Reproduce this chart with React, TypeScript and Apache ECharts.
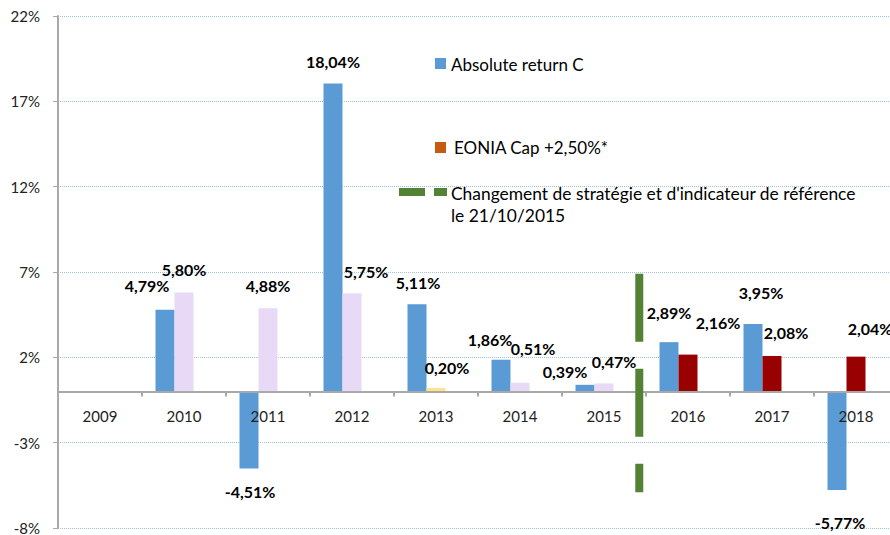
import React, { useEffect, useRef } from "react";
import * as echarts from "echarts";

const years = ["2009", "2010", "2011", "2012", "2013", "2014", "2015", "2016", "2017", "2018"];
const absoluteReturn: (number | null)[] = [null, 4.79, -4.51, 18.04, 5.11, 1.86, 0.39, 2.89, 3.95, -5.77];
const referenceIndex: (number | null)[] = [null, 5.8, 4.88, 5.75, 0.2, 0.51, 0.47, 2.16, 2.08, 2.04];
const placeholder: (number | null)[] = [null, null, null, null, null, null, null, null, null, null];

// strategy change marker, in category units / percent
const strategyChangeX = 6.92;
const strategyChangeTop = 6.9;
const strategyChangeBottom = -5.9;

const yMin = -8;
const yMax = 22;
const yStep = 5;

// styles
const GRID_H = 512;
const referenceColors = ["#E8DAF6", "#E8DAF6", "#E8DAF6", "#E8DAF6", "#FFE38C", "#E8DAF6", "#E8DAF6", "#990000", "#990000", "#990000"];
const absLabelOffsets: [number, number][] = [[0, 0], [-18, -65], [1, 62], [0, -176], [1, -65], [-11, -36], [-20, -17], [0, -54], [8, -65], [3, 82]];
const refLabelOffsets: [number, number][] = [[0, 0], [0, -72], [0, -64], [14, -71], [11, -22], [13, -39], [10, -26], [30, -51], [14, -41], [14, -46]];

const FONT = "Lato, 'Open Sans', sans-serif";
const fmt = (v: number) => v.toFixed(2).replace(".", ",") + "%";

const labelBase = {
  show: true,
  position: "inside",
  color: "#000",
  fontWeight: "bold",
  fontSize: 16,
  fontFamily: FONT,
  formatter: (p: any) => fmt(p.value),
};

export default function App() {
  const ref = useRef<HTMLDivElement>(null);
  useEffect(() => {
    if (!ref.current) return;
    const chart = echarts.init(ref.current, null, { renderer: "svg" });
    // place the category axis on the zero line of the value scale
    const zeroOffset = -GRID_H * (0 - yMin) / (yMax - yMin);
    const option: any = {
      animation: false,
      backgroundColor: "#fff",
      grid: { left: 58, top: 16, width: 840, height: GRID_H, containLabel: false, outerBoundsMode: "none" },
      xAxis: [
        {
          type: "category",
          data: years,
          offset: zeroOffset,
          z: 3,
          axisLine: { onZero: false, lineStyle: { color: "#A9A9A9", width: 2 } },
          axisTick: { show: true, length: 5, lineStyle: { color: "#A9A9A9", width: 2 } },
          axisLabel: { color: "#222", fontSize: 15, fontFamily: FONT, margin: 17 },
          splitLine: { show: false },
        },
        { type: "value", min: 0, max: 10, show: false },
      ],
      yAxis: {
        type: "value",
        min: yMin,
        max: yMax,
        interval: yStep,
        axisLine: { show: true, onZero: false, lineStyle: { color: "#A9A9A9", width: 2 } },
        axisTick: { show: true, length: 5, lineStyle: { color: "#A9A9A9", width: 1 } },
        axisLabel: { color: "#222", fontSize: 15, fontFamily: FONT, margin: 18, formatter: (v: number) => v + "%" },
        splitLine: { show: true, lineStyle: { color: "#9DC3E6", type: "dotted", width: 1 } },
      },
      series: [
        {
          name: "Absolute return C",
          type: "bar",
          barWidth: 19,
          barGap: "0%",
          itemStyle: { color: "#5B9BD5" },
          data: absoluteReturn.map((v, i) =>
            v == null ? "-" : { value: v, label: { ...labelBase, offset: absLabelOffsets[i] } }
          ),
        },
        {
          name: "EONIA Cap +2,50%*",
          type: "bar",
          barWidth: 19,
          barGap: "0%",
          itemStyle: { color: "#C55A11" },
          data: referenceIndex.map((v, i) =>
            v == null
              ? "-"
              : { value: v, itemStyle: { color: referenceColors[i] }, label: { ...labelBase, offset: refLabelOffsets[i] } }
          ),
        },
        {
          name: "Changement de stratégie",
          type: "bar",
          barWidth: 19,
          barGap: "0%",
          data: placeholder.map((v) => (v == null ? "-" : v)),
        },
        {
          name: "Changement de stratégie et d'indicateur de référence le 21/10/2015",
          type: "line",
          xAxisIndex: 1,
          symbol: "none",
          lineStyle: { color: "#548235", width: 8, type: [68, 27], cap: "butt" },
          data: [
            [strategyChangeX, strategyChangeTop],
            [strategyChangeX, strategyChangeBottom],
          ],
          z: 5,
        },
      ],
      graphic: [
        { type: "rect", shape: { x: 435, y: 58, width: 11, height: 11 }, style: { fill: "#5B9BD5" } },
        { type: "text", x: 451, y: 64, style: { text: "Absolute return C", fill: "#000", font: `17px ${FONT}`, verticalAlign: "middle" } },
        { type: "rect", shape: { x: 435, y: 142, width: 11, height: 11 }, style: { fill: "#C55A11" } },
        { type: "text", x: 454, y: 147, style: { text: "EONIA Cap +2,50%*", fill: "#000", font: `17px ${FONT}`, verticalAlign: "middle" } },
        { type: "rect", shape: { x: 399, y: 188, width: 26, height: 8 }, style: { fill: "#548235" } },
        { type: "rect", shape: { x: 434, y: 188, width: 13, height: 8 }, style: { fill: "#548235" } },
        { type: "text", x: 451, y: 193, style: { text: "Changement de stratégie et d'indicateur de référence", fill: "#000", font: `17.4px ${FONT}`, verticalAlign: "middle" } },
        { type: "text", x: 451, y: 215, style: { text: "le 21/10/2015", fill: "#000", font: `17.4px ${FONT}`, verticalAlign: "middle" } },
      ],
    };
    chart.setOption(option);
    return () => chart.dispose();
  }, []);
  return <div ref={ref} style={{ position: "fixed", left: 0, top: 0, width: 890, height: 535 }} />;
}
